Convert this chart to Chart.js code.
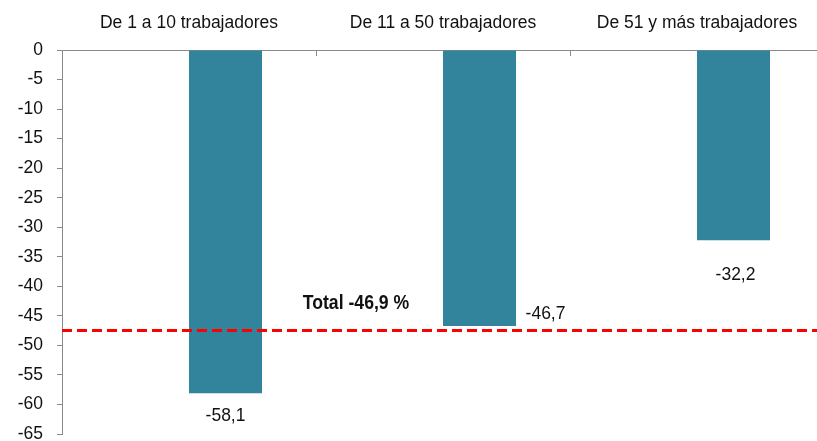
<!DOCTYPE html>
<html>
<head>
<meta charset="utf-8">
<script src="https://cdn.jsdelivr.net/npm/chart.js@4"></script>
<style>
html,body{margin:0;padding:0;background:#fff;overflow:hidden;}
#wrap{width:817px;height:441px;overflow:hidden;position:relative;}
#inner{width:824px;height:441px;}
</style>
</head>
<body>
<div id="wrap"><div id="inner"><canvas id="c" width="824" height="441"></canvas></div></div>
<script>
const categories = ['De 1 a 10 trabajadores', 'De 11 a 50 trabajadores', 'De 51 y más trabajadores'];
const values = [-58.1, -46.7, -32.2];
const spacer = [null, null, null];
const totalLabel = 'Total -46,9 %';
const totalLineLevel = -47.5;
const yMin = -65, yMax = 0, yStep = 5;

const fmt = v => v.toFixed(1).replace('.', ',');
const labelOffsets = [{dx:0, dy:23}, {dx:66, dy:-12}, {dx:2, dy:35}];

const overlay = {
  id: 'overlay',
  afterDatasetsDraw(chart) {
    const ctx = chart.ctx, ca = chart.chartArea;
    const xs = chart.scales.x, ys = chart.scales.y;
    const catW = ca.width / categories.length;
    ctx.save();
    ctx.strokeStyle = '#8a8a8a'; ctx.lineWidth = 1;
    for (let i = 0; i < categories.length; i++) {
      const bx = Math.round(xs.getPixelForValue(i) + catW / 2) + 0.5;
      ctx.beginPath(); ctx.moveTo(bx, ca.top); ctx.lineTo(bx, ca.top + 6); ctx.stroke();
    }
    const ly = ys.getPixelForValue(totalLineLevel);
    ctx.strokeStyle = '#FF0000'; ctx.lineWidth = 3; ctx.setLineDash([10, 5]);
    ctx.beginPath(); ctx.moveTo(ca.left, ly); ctx.lineTo(ca.right, ly); ctx.stroke();
    ctx.setLineDash([]);
    ctx.fillStyle = '#111'; ctx.font = '17.5px "Liberation Sans", Arial, sans-serif';
    ctx.textAlign = 'center'; ctx.textBaseline = 'middle';
    const meta = chart.getDatasetMeta(1);
    meta.data.forEach((bar, i) => {
      const o = labelOffsets[i];
      ctx.fillText(fmt(values[i]), bar.x + o.dx, bar.y + o.dy);
    });
    ctx.font = 'bold 21px "Liberation Sans", Arial, sans-serif';
    const tx = xs.getPixelForValue(0) + catW / 2 + 40;
    ctx.translate(tx, ly - 27);
    ctx.scale(0.84, 1);
    ctx.fillText(totalLabel, 0, 0);
    ctx.restore();
  }
};

new Chart(document.getElementById('c'), {
  type: 'bar',
  data: {
    labels: categories,
    datasets: [
      { data: spacer, backgroundColor: '#31849B' },
      { data: values, backgroundColor: '#31849B', borderWidth: 0 }
    ]
  },
  options: {
    responsive: false,
    animation: false,
    layout: { padding: { top: 0, bottom: 7, left: 0, right: 0 } },
    plugins: { legend: { display: false }, tooltip: { enabled: false } },
    datasets: { bar: { categoryPercentage: 0.575, barPercentage: 1.0 } },
    scales: {
      x: {
        position: 'top',
        offset: true,
        grid: { display: false },
        border: { display: true, color: '#8a8a8a', width: 1 },
        ticks: { color: '#111', font: { size: 17.5, family: '"Liberation Sans", Arial, sans-serif' }, padding: 8, maxRotation: 0 },
        afterFit(s) { s.height = 50; s.paddingLeft = 0; s.paddingRight = 0; }
      },
      y: {
        min: yMin, max: yMax,
        grid: { drawOnChartArea: false, drawTicks: true, tickLength: 5, color: '#8a8a8a' },
        border: { display: true, color: '#8a8a8a', width: 1 },
        ticks: { stepSize: yStep, color: '#111', padding: 14, font: { size: 17.5, family: '"Liberation Sans", Arial, sans-serif' } },
        afterFit(s) { s.width = 62; s.paddingTop = 0; s.paddingBottom = 0; }
      }
    }
  },
  plugins: [overlay]
});
</script>
</body>
</html>
